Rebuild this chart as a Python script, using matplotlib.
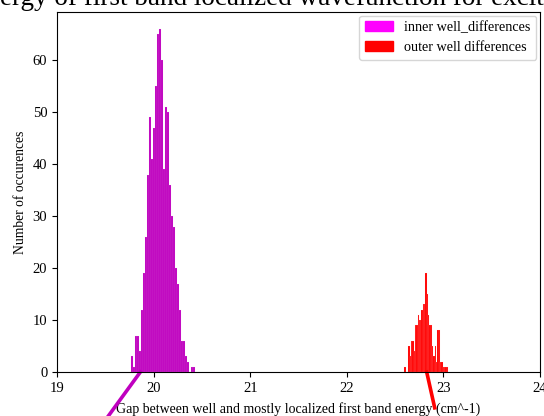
import numpy as np
import matplotlib.pyplot as plt
import matplotlib as mpl
from matplotlib.patches import Patch

mpl.rc('font', family=['Liberation Serif', 'DejaVu Serif'])

# histogram counts, read per bin
inner_start = 19.770
inner_width = 0.0207
inner_counts = [3, 1, 7, 7, 4, 12, 19, 26, 38, 49, 41, 47, 55, 65, 66, 60,
                39, 51, 50, 36, 30, 28, 20, 17, 12, 6, 6, 3, 2, 0, 1, 1]

outer_start = 22.594
outer_width = 0.01379
outer_counts = [1, 0, 0, 5, 3, 6, 6, 4, 9, 9, 11, 10, 10, 12, 13, 13, 19,
                15, 11, 9, 9, 5, 3, 5, 2, 8, 8, 2, 2, 1, 1, 1, 1]

# stray fit lines running below the axis
inner_line_x = [19.863, 19.315]
inner_line_y = [0, -14]
outer_line_x = [22.827, 22.91]
outer_line_y = [0, -6.9]

title = "Energy of first band localized wavefunction for excited states"

fig = plt.figure(figsize=(5.44, 4.16), dpi=100)
ax = fig.add_axes([57/544, 44/416, 483/544, 360/416])

inner_edges = inner_start + inner_width*np.arange(len(inner_counts))
outer_edges = outer_start + outer_width*np.arange(len(outer_counts))

ax.bar(inner_edges, inner_counts, width=inner_width, align='edge',
       color='m', edgecolor='#f4d0f4', linewidth=0.08)
ax.bar(outer_edges, outer_counts, width=outer_width, align='edge',
       color='r', edgecolor='#ffd0d0', linewidth=0.08)

ax.plot(inner_line_x, inner_line_y, color='m', lw=2.6, clip_on=False)
ax.plot(outer_line_x, outer_line_y, color='r', lw=2.6, clip_on=False)

ax.set_xlim(19, 24)
ax.set_ylim(0, 69.3)
ax.set_xticks([19, 20, 21, 22, 23, 24])
ax.set_yticks([0, 10, 20, 30, 40, 50, 60])
ax.tick_params(labelsize=10.5)

ax.set_xlabel("Gap between well and mostly localized first band energy (cm^-1)",
              fontsize=10, labelpad=5)
ax.set_ylabel("Number of occurences", fontsize=9.8)

handles = [Patch(color='magenta', label='inner well_differences'),
           Patch(color='red', label='outer well differences')]
ax.legend(handles=handles, loc='upper right', fontsize=10.2,
          borderaxespad=0.25)

fig.text(-30.5/544, 1 - 5/416, title, ha='left', va='baseline', fontsize=19.5)

fig.savefig('out.png', dpi=100)
